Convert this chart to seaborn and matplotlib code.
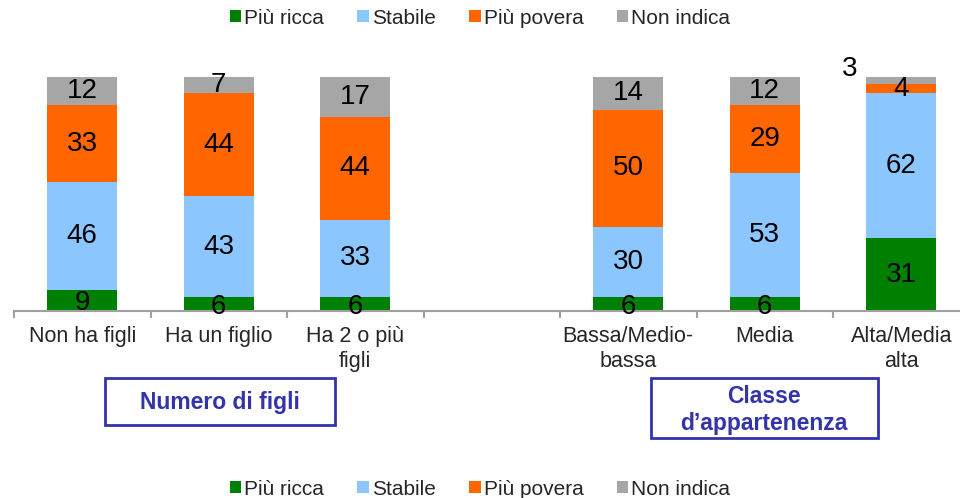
import pandas as pd
import seaborn as sns
import matplotlib.pyplot as plt
from matplotlib.patches import Patch, Rectangle

sns.set_style('white')
plt.rcParams['font.family'] = ['Liberation Sans', 'DejaVu Sans']

# data
categories = ['Non ha figli', 'Ha un figlio', 'Ha 2 o più\nfigli', '',
              'Bassa/Medio-\nbassa', 'Media', 'Alta/Media\nalta']
piu_ricca = [9, 6, 6, None, 6, 6, 31]
stabile = [46, 43, 33, None, 30, 53, 62]
piu_povera = [33, 44, 44, None, 50, 29, 4]
non_indica = [12, 7, 17, None, 14, 12, 3]

series = ['Più ricca', 'Stabile', 'Più povera', 'Non indica']
colors = ['#008000', '#8CC6FF', '#FF6600', '#A6A6A6']

df = pd.DataFrame({'cat': categories, 'Più ricca': piu_ricca,
                   'Stabile': stabile, 'Più povera': piu_povera,
                   'Non indica': non_indica})
df = df[df['cat'] != ''].reset_index(drop=True)
cum = df[series].cumsum(axis=1)

fig = plt.figure(figsize=(9.6, 4.98), dpi=100)
ax = fig.add_axes([0.0146, 0.3755, 0.9953, 0.47])

# stacked bars: draw cumulative totals from the top layer down
for s, c in reversed(list(zip(series, colors))):
    tmp = pd.DataFrame({'cat': df['cat'], 'val': cum[s]})
    sns.barplot(data=tmp, x='cat', y='val', order=categories, color=c,
                saturation=1, width=0.51, errorbar=None, linewidth=0, ax=ax)

# value labels
for i, row in df.iterrows():
    xi = categories.index(row['cat'])
    for s in series:
        v = row[s]
        mid = cum.loc[i, s] - v / 2
        if s == 'Non indica' and v < 5:
            ax.annotate(f'{v:g}', (xi, cum.loc[i, s]), xytext=(-37, -4),
                        textcoords='offset points', ha='center', va='bottom',
                        fontsize=20, color='black')
        elif s == 'Più ricca' and v < 10:
            # small bottom segments: label sits low, on the axis
            ax.annotate(f'{v:g}', (xi, mid), xytext=(0, -2),
                        textcoords='offset points', ha='center', va='center',
                        fontsize=20, color='black')
        else:
            ax.text(xi, mid, f'{v:g}', ha='center', va='center',
                    fontsize=20, color='black')

ax.set_xlim(-0.5, len(categories) - 0.5)
ax.set_ylim(0, 100)
ax.set_yticks([])
ax.set_xlabel('')
ax.set_ylabel('')
for side in ['top', 'left', 'right']:
    ax.spines[side].set_visible(False)
ax.spines['bottom'].set_color('#A0A0A0')
ax.spines['bottom'].set_linewidth(1.5)
ax.set_xticks(range(len(categories)))
ax.set_xticklabels(categories, fontsize=15.5, linespacing=1.25)
ax.set_xticks([i - 0.5 for i in range(len(categories) + 1)], minor=True)
ax.tick_params(axis='x', which='major', length=0, pad=11)
ax.tick_params(axis='x', which='minor', length=5, width=1.5,
               color='#A0A0A0', direction='out', bottom=True)

# group boxes
blue = '#3333AA'
W, H = 960, 498
for (x0, y0, x1, y1) in [(105, 378, 335, 425), (651, 378, 878, 438)]:
    fig.patches.append(Rectangle((x0 / W, 1 - y1 / H), (x1 - x0) / W,
                                 (y1 - y0) / H, transform=fig.transFigure,
                                 fc='white', ec=blue, lw=2))
fig.text(220 / W, 1 - 402 / H, 'Numero di figli', ha='center',
         va='center', fontsize=16.5, fontweight='bold', color=blue)
fig.text(764 / W, 1 - 410 / H, 'Classe\nd\u2019appartenenza', ha='center',
         va='center', fontsize=16.5, fontweight='bold', color=blue,
         linespacing=1.25)

# legends top and bottom
handles = [Patch(facecolor=c, edgecolor='none', label=s)
           for s, c in zip(series, colors)]
for ypix in [18, 489]:
    fig.legend(handles=handles, loc='center', ncol=4,
               bbox_to_anchor=(0.5, 1 - ypix / H), frameon=False,
               fontsize=15, handlelength=0.55, handleheight=0.55,
               handletextpad=0.15, columnspacing=1.6)

fig.savefig('out.png', dpi=100)
